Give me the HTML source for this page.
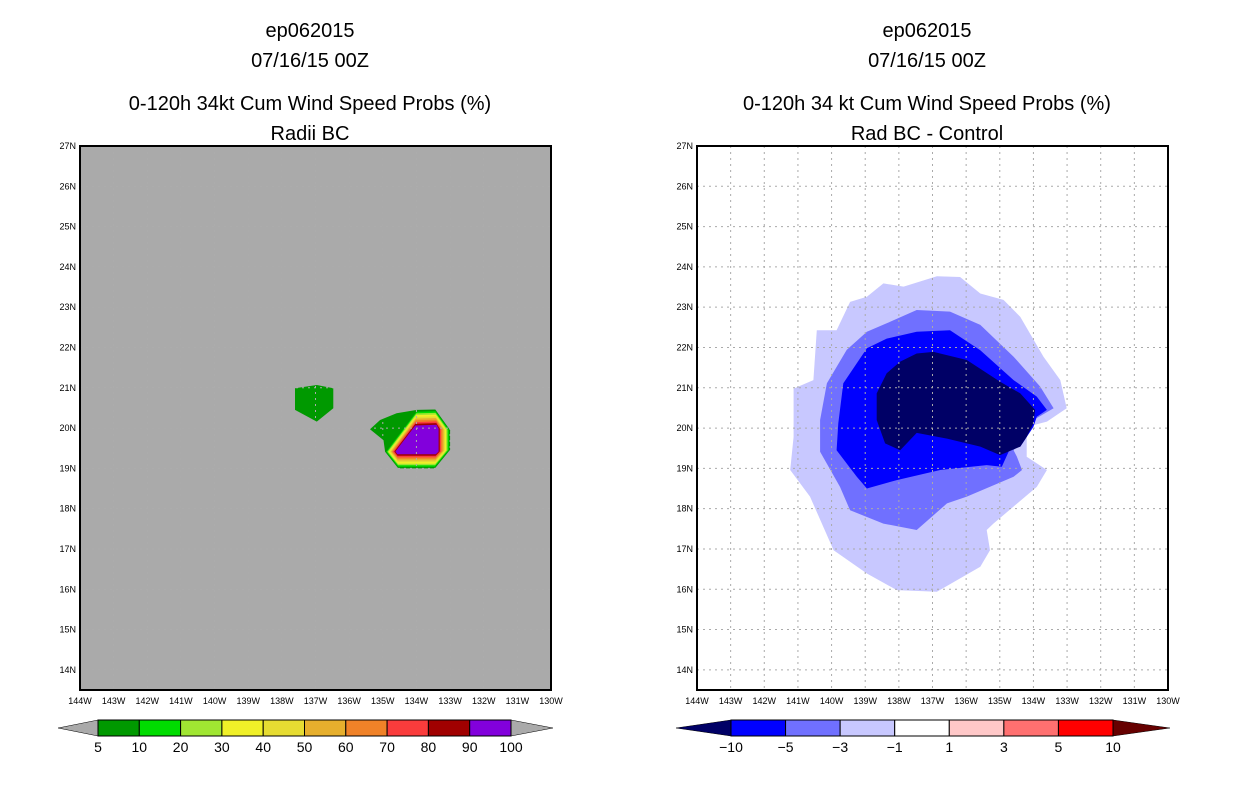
<!DOCTYPE html>
<html><head><meta charset="utf-8"><style>
body{margin:0;background:#fff;width:1236px;height:800px;overflow:hidden}
svg{display:block}
text{font-family:"Liberation Sans",sans-serif}
</style></head><body>
<svg id="fig" width="1236" height="800">
<g font-size="20" text-anchor="middle" fill="#000">
<text x="310" y="37">ep062015</text><text x="310" y="67">07/16/15 00Z</text>
<text x="310" y="110">0-120h 34kt Cum Wind Speed Probs (%)</text><text x="310" y="140">Radii BC</text></g>
<g font-size="20" text-anchor="middle" fill="#000">
<text x="927" y="37">ep062015</text><text x="927" y="67">07/16/15 00Z</text>
<text x="927" y="110">0-120h 34 kt Cum Wind Speed Probs (%)</text><text x="927" y="140">Rad BC - Control</text></g>
<g id="left"></g>
<g id="right"></g>
<g id="cbL"></g>
<g id="cbR"></g>
</svg>
<script>
const NS="http://www.w3.org/2000/svg";
const lonTicks=[144,143,142,141,140,139,138,137,136,135,134,133,132,131,130];
const latTicks=[27,26,25,24,23,22,21,20,19,18,17,16,15,14];
// right panel contours (lon W, lat N)
const diff1Lon=[138.46,137.86,136.87,136.18,135.58,134.89,134.39,133.70,133.20,133.01,133.60,134.20,134.20,133.60,133.90,135.19,135.39,135.29,135.58,136.87,138.06,138.95,139.94,140.64,141.23,141.13,141.13,140.54,140.44,139.85,139.45,138.95];
const diff1Lat=[23.59,23.51,23.77,23.75,23.34,23.18,22.76,21.77,21.19,20.49,20.16,20.03,19.29,18.96,18.54,17.63,17.47,16.97,16.56,15.94,15.98,16.39,16.97,18.30,18.96,19.78,20.98,21.19,22.43,22.43,23.13,23.26];
const diff3Lon=[137.47,136.48,135.58,134.59,133.80,133.40,134.00,134.20,134.59,134.49,134.34,134.59,135.98,136.57,137.47,138.46,139.45,139.75,140.34,140.34,140.14,139.55,138.95,138.36];
const diff3Lat=[22.93,22.89,22.56,21.77,21.03,20.49,20.20,19.87,19.45,19.29,18.96,18.79,18.30,18.13,17.47,17.63,17.96,18.54,19.41,20.20,21.11,21.94,22.39,22.60];
const diff5Lon=[137.47,136.48,135.58,134.59,133.90,133.60,133.90,134.00,134.39,134.69,134.94,135.39,136.77,138.06,138.95,139.25,139.85,139.80,139.65,138.95,138.36];
const diff5Lat=[22.39,22.43,21.93,21.19,20.78,20.45,20.28,20.03,19.54,19.50,19.04,19.08,18.96,18.71,18.50,18.79,19.45,20.12,21.11,21.98,22.22];
const diff10Lon=[137.47,136.97,135.98,134.99,134.39,133.95,134.00,134.20,134.39,134.99,135.58,136.57,137.47,137.96,138.41,138.66,138.66,138.36,137.96];
const diff10Lat=[21.85,21.89,21.69,21.15,20.86,20.45,20.12,19.78,19.54,19.33,19.54,19.74,19.88,19.45,19.62,20.20,20.86,21.36,21.65];
// left panel
const blobLon=[137.61,136.96,136.47,136.47,136.96,137.61];
const blobLat=[20.99,21.07,20.99,20.49,20.16,20.45];
const tailLon=[133.99,134.59,135.08,135.38,134.98,134.93,134.0];
const tailLat=[20.45,20.37,20.20,19.97,19.70,19.41,19.9];
const outerLon=[133.99,133.44,133.00,133.00,133.45,134.54,134.93];
const outerLat=[20.45,20.46,19.95,19.46,19.00,19.00,19.41];
const innerLon=[134.04,133.40,133.38,133.38,133.42,134.57,134.59];
const innerLat=[20.02,20.04,19.99,19.41,19.39,19.39,19.42];
const probLevels=[5,10,20,30,40,50,60,70,80,90,100];
const probColors=["#009900","#00dc00","#a0e632","#f0f028","#e6dc32","#e6af2d","#f08228","#fa3c3c","#a00000","#8200dc"];
const diffLevels=[-10,-5,-3,-1,1,3,5,10];
const diffColors=["#000066","#0000ff","#7070ff","#c8c8ff","#ffffff","#ffc8c8","#ff7070","#ff0000","#660000"];

function el(t,a,p){const e=document.createElementNS(NS,t);for(const k in a)e.setAttribute(k,a[k]);p.appendChild(e);return e;}
const Y0=146,W=471,H=544;
function sx(ox,lon){return ox+(144-lon)*W/14;}
function sy(lat){return Y0+(27-lat)*H/13.5;}
function poly(g,ox,lons,lats,fill,name){
  const pts=lons.map((l,i)=>sx(ox,l).toFixed(1)+","+sy(lats[i]).toFixed(1)).join(" ");
  const p=el("polygon",{points:pts,fill:fill},g);
  
  
}
function frame(g,ox,bg){
  const r=el("rect",{x:ox,y:Y0,width:W,height:H,fill:bg},g);
  
  
}
function axes(g,ox,gridCol){
  lonTicks.forEach(l=>{const x=sx(ox,l);
    if(l<144&&l>130){const ln=el("line",{x1:x,x2:x,y1:Y0,y2:Y0+H,stroke:gridCol,"stroke-dasharray":"2,4","stroke-width":1},g);
    }
    const t=el("text",{x:x,y:704,"font-size":9,"text-anchor":"middle"},g);t.textContent=l+"W";
    });
  latTicks.forEach(l=>{const y=sy(l);
    if(l<27){const ln=el("line",{x1:ox,x2:ox+W,y1:y,y2:y,stroke:gridCol,"stroke-dasharray":"2,4","stroke-width":1},g);
    }
    const t=el("text",{x:ox-4,y:y+3,"font-size":9,"text-anchor":"end"},g);t.textContent=l+"N";
    });
  const b=el("rect",{x:ox,y:Y0,width:W,height:H,fill:"none",stroke:"#000","stroke-width":2},g);
  
}
// left
const L=document.getElementById("left"),LX=80;
frame(L,LX,"#aaaaaa");
poly(L,LX,blobLon,blobLat,probColors[0],"prob-blob-west");
poly(L,LX,tailLon,tailLat,probColors[0],"prob-tail");
for(let k=0;k<probColors.length;k++){
  const t=k/probColors.length;
  const lo=outerLon.map((v,i)=>v+(innerLon[i]-v)*t), la=outerLat.map((v,i)=>v+(innerLat[i]-v)*t);
  poly(L,LX,lo,la,probColors[k],"prob-contour-"+probLevels[k]);
}
axes(L,LX,"#acacac");
// right
const R=document.getElementById("right"),RX=697;
frame(R,RX,"#ffffff");
poly(R,RX,diff1Lon,diff1Lat,diffColors[3],"diff-contour-minus1");
poly(R,RX,diff3Lon,diff3Lat,diffColors[2],"diff-contour-minus3");
poly(R,RX,diff5Lon,diff5Lat,diffColors[1],"diff-contour-minus5");
poly(R,RX,diff10Lon,diff10Lat,diffColors[0],"diff-contour-minus10");
axes(R,RX,"#aaaaaa");
// colorbars
function cbar(g,x0,x1,tipL,tipR,colors,labels,tipColL,tipColR){
  const n=colors.length,w=(x1-x0)/n,y=720,h=16;
  let p=el("polygon",{points:`${tipL},${y+h/2} ${x0},${y} ${x0},${y+h}`,fill:tipColL,stroke:"#000","stroke-width":0.5},g);
  
  p=el("polygon",{points:`${tipR},${y+h/2} ${x1},${y} ${x1},${y+h}`,fill:tipColR,stroke:"#000","stroke-width":0.5},g);
  
  colors.forEach((c,i)=>{const r=el("rect",{x:x0+i*w,y:y,width:w,height:h,fill:c,stroke:"#000","stroke-width":1},g);
    });
  labels.forEach((l,i)=>{const t=el("text",{x:x0+i*w,y:752,"font-size":14,"text-anchor":"middle"},g);t.textContent=String(l).replace("-","\u2212");
    });
}
cbar(document.getElementById("cbL"),98,511,58,553,probColors,probLevels,"#aaaaaa","#aaaaaa");
cbar(document.getElementById("cbR"),731,1113,676,1170,diffColors.slice(1,8),diffLevels,diffColors[0],diffColors[8]);
</script>
</body></html>
